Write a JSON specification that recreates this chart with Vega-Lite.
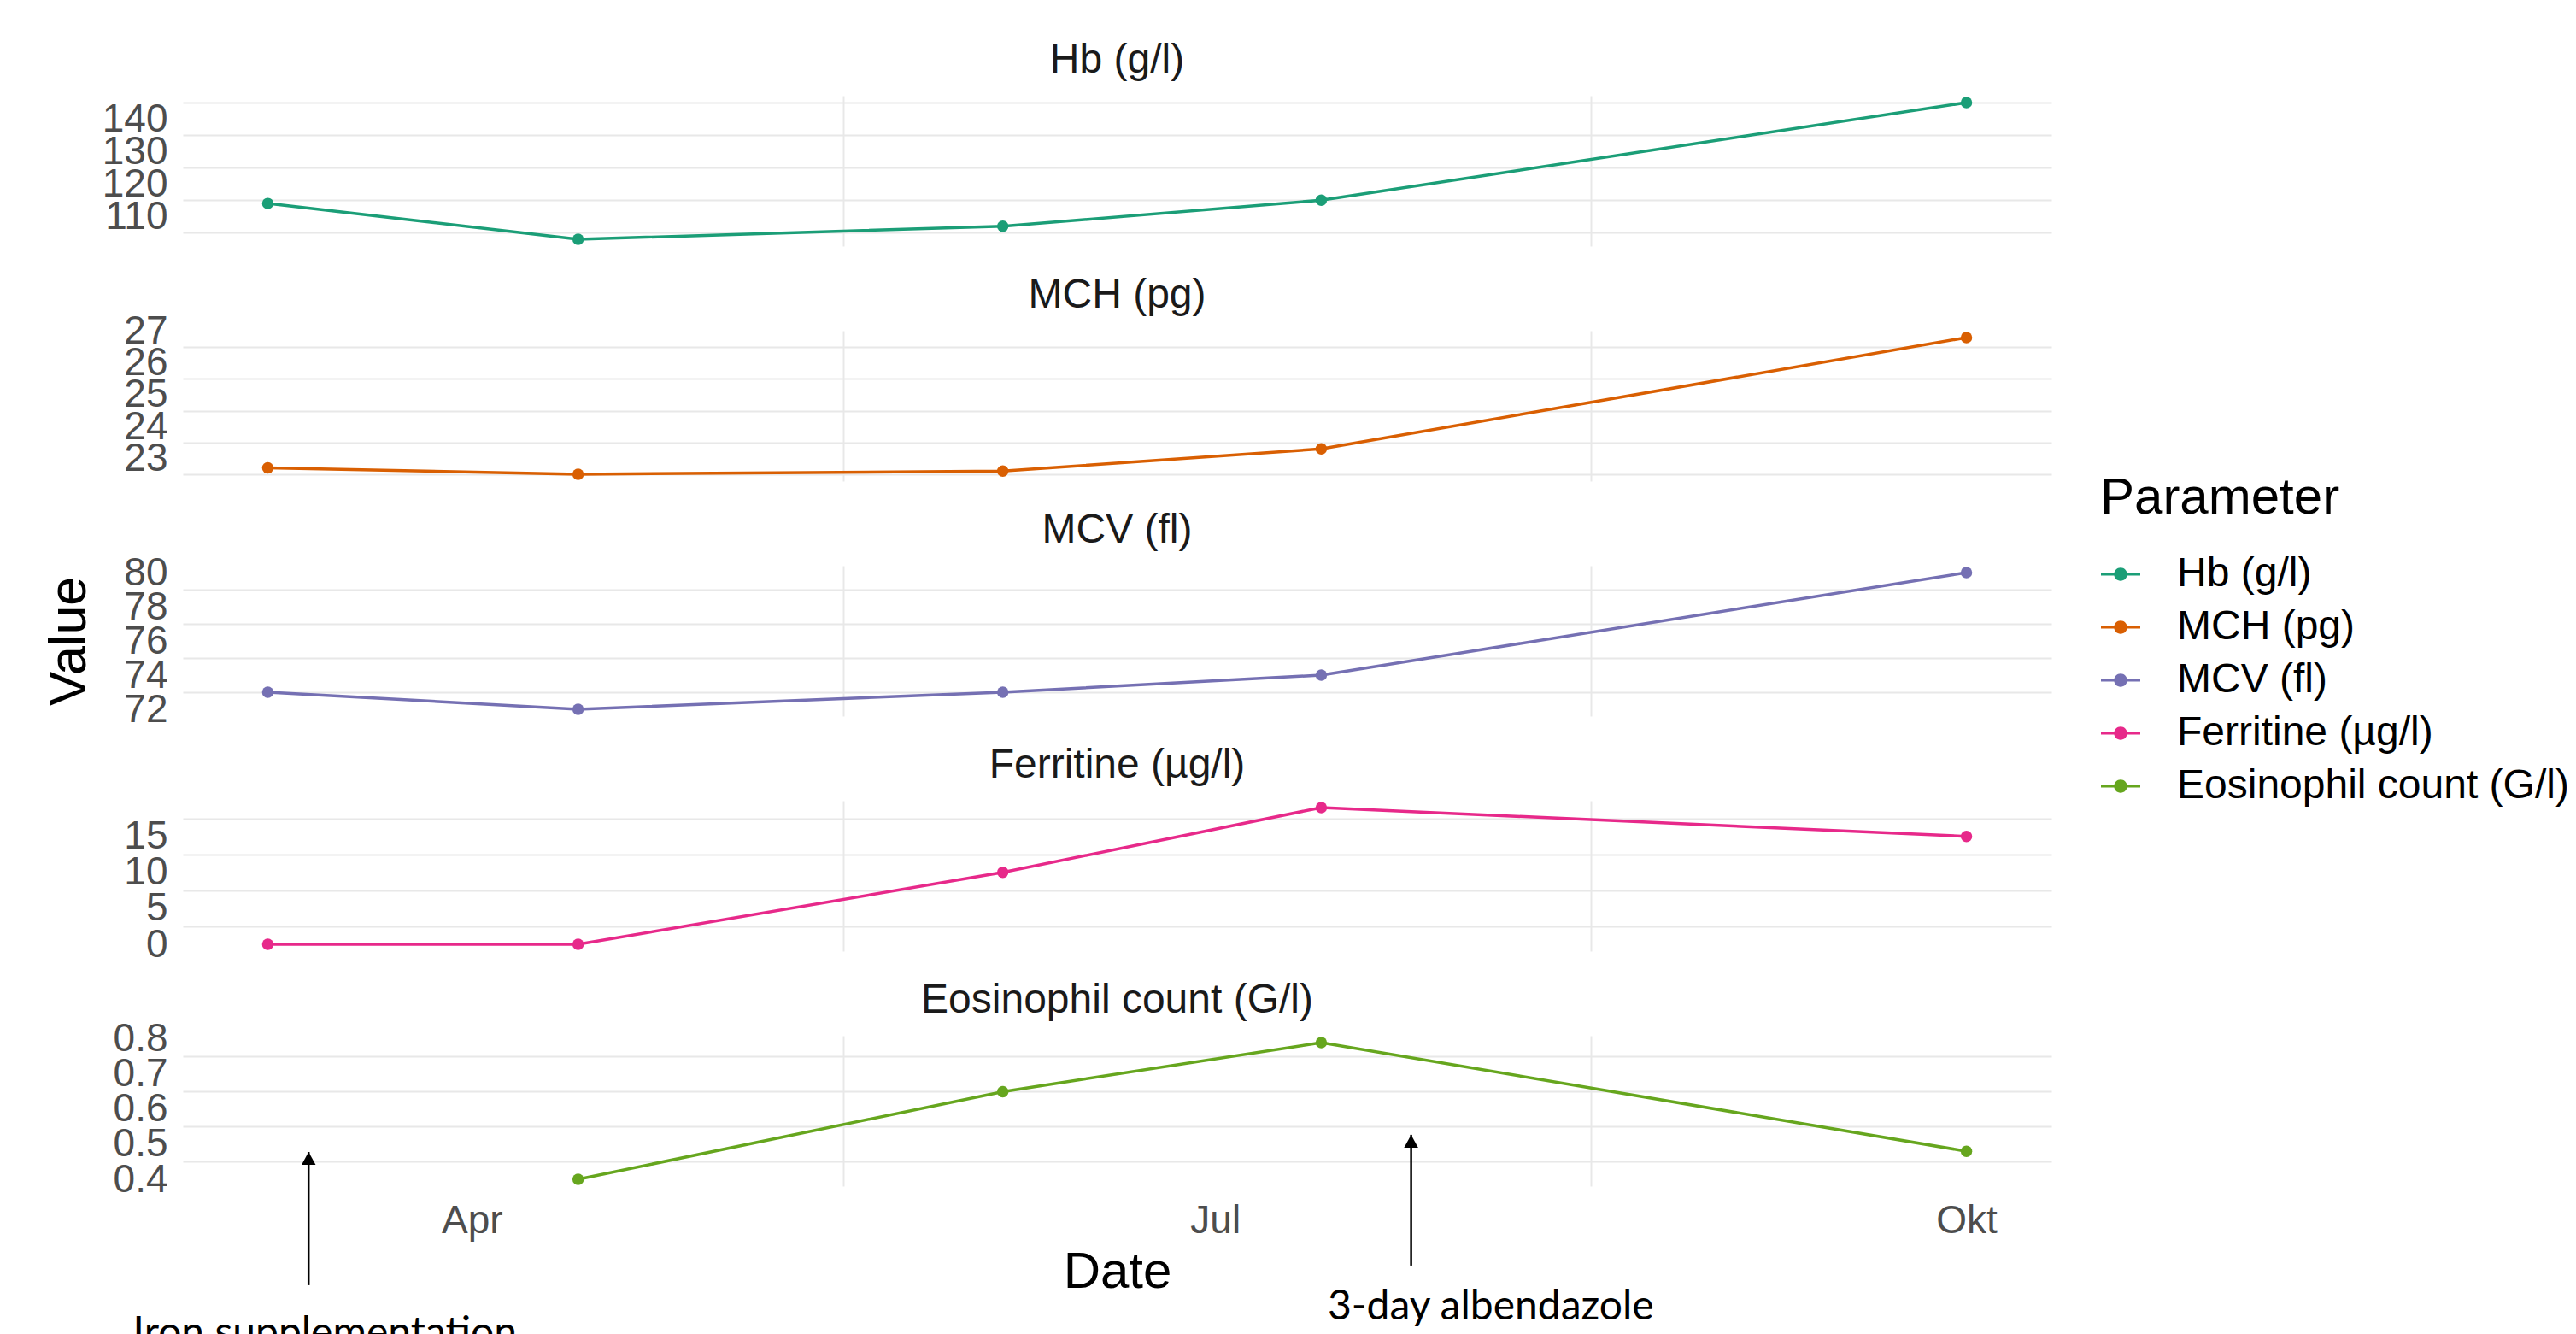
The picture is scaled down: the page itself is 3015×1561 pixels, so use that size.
{
  "$schema": "https://vega.github.io/schema/vega-lite/v6.json",
  "padding": {"left": 50, "top": 47, "right": 0, "bottom": 0},
  "background": "white",
  "datasets": {
    "labs": [
      {"Date": "2019-03-07T00:00:00", "Parameter": "Hb (g/l)", "Value": 114},
      {"Date": "2019-04-14T00:00:00", "Parameter": "Hb (g/l)", "Value": 103},
      {"Date": "2019-06-05T00:00:00", "Parameter": "Hb (g/l)", "Value": 107},
      {"Date": "2019-07-14T00:00:00", "Parameter": "Hb (g/l)", "Value": 115},
      {"Date": "2019-10-01T00:00:00", "Parameter": "Hb (g/l)", "Value": 145},
      {"Date": "2019-03-07T00:00:00", "Parameter": "MCH (pg)", "Value": 22.7},
      {"Date": "2019-04-14T00:00:00", "Parameter": "MCH (pg)", "Value": 22.5},
      {"Date": "2019-06-05T00:00:00", "Parameter": "MCH (pg)", "Value": 22.6},
      {"Date": "2019-07-14T00:00:00", "Parameter": "MCH (pg)", "Value": 23.3},
      {"Date": "2019-10-01T00:00:00", "Parameter": "MCH (pg)", "Value": 26.8},
      {"Date": "2019-03-07T00:00:00", "Parameter": "MCV (fl)", "Value": 73},
      {"Date": "2019-04-14T00:00:00", "Parameter": "MCV (fl)", "Value": 72},
      {"Date": "2019-06-05T00:00:00", "Parameter": "MCV (fl)", "Value": 73},
      {"Date": "2019-07-14T00:00:00", "Parameter": "MCV (fl)", "Value": 74},
      {"Date": "2019-10-01T00:00:00", "Parameter": "MCV (fl)", "Value": 80},
      {"Date": "2019-03-07T00:00:00", "Parameter": "Ferritine (µg/l)", "Value": 0},
      {"Date": "2019-04-14T00:00:00", "Parameter": "Ferritine (µg/l)", "Value": 0},
      {"Date": "2019-06-05T00:00:00", "Parameter": "Ferritine (µg/l)", "Value": 10},
      {"Date": "2019-07-14T00:00:00", "Parameter": "Ferritine (µg/l)", "Value": 19},
      {"Date": "2019-10-01T00:00:00", "Parameter": "Ferritine (µg/l)", "Value": 15},
      {"Date": "2019-04-14T00:00:00", "Parameter": "Eosinophil count (G/l)", "Value": 0.40},
      {"Date": "2019-06-05T00:00:00", "Parameter": "Eosinophil count (G/l)", "Value": 0.65},
      {"Date": "2019-07-14T00:00:00", "Parameter": "Eosinophil count (G/l)", "Value": 0.79},
      {"Date": "2019-10-01T00:00:00", "Parameter": "Eosinophil count (G/l)", "Value": 0.48}
    ],
    "arrows": [
      {"Date": "2019-03-12T00:00:00", "Tip": 0.478, "Base": 0.098},
      {"Date": "2019-07-25T00:00:00", "Tip": 0.527, "Base": 0.154}
    ],
    "notes": [
      {"Date": "2019-03-14T00:00:00", "Value": -0.075, "Note": "Iron supplementation"},
      {"Date": "2019-08-03T18:00:00", "Value": 0.0, "Note": "3-day albendazole"}
    ]
  },
  "data": {"name": "labs"},
  "spacing": 99,
  "bounds": "flush",
  "resolve": {"scale": {"y": "independent"}},
  "vconcat": [
    {
      "title": "Hb (g/l)",
      "width": 2187, "height": 176,
      "transform": [{"filter": "datum.Parameter === 'Hb (g/l)'"}],
      "resolve": {"axis": {"x": "independent", "y": "independent"}},
      "layer": [
        {"mark": {"type": "line", "strokeWidth": 3.5},
         "encoding": {
           "x": {"field": "Date", "type": "temporal", "scale": {"domain": [{"year": 2019, "month": 2, "date": 24, "hours": 14, "minutes": 24}, {"year": 2019, "month": 10, "date": 11, "hours": 9, "minutes": 36}], "nice": false},
                 "axis": {"values": [{"year": 2019, "month": 5, "date": 16, "hours": 12}, {"year": 2019, "month": 8, "date": 16}], "labels": false, "title": null, "gridWidth": 2, "orient": "top", "ticks": true, "tickSize": 30, "tickColor": "transparent"}},
           "y": {"field": "Value", "type": "quantitative", "scale": {"domain": [100.9, 147.1], "zero": false, "nice": false},
                 "axis": {"values": [105, 115, 125, 135, 145], "labels": false, "title": null, "gridWidth": 2, "orient": "right"}},
           "color": {"field": "Parameter", "type": "nominal", "scale": {"domain": ["Hb (g/l)", "MCH (pg)", "MCV (fl)", "Ferritine (µg/l)", "Eosinophil count (G/l)"], "range": ["#1B9E77", "#D95F02", "#7570B3", "#E7298A", "#66A61E"]}, "title": "Parameter",
                     "legend": {"encode": {"symbols": {"update": {"fill": {"scale": "color", "field": "value"}, "stroke": {"value": "transparent"}, "opacity": {"value": 1}, "strokeWidth": {"value": 0}}}}}}
         }},
        {"mark": {"type": "point", "filled": true, "size": 180, "opacity": 1},
         "encoding": {
           "x": {"field": "Date", "type": "temporal",
                 "axis": {"values": [{"year": 2019, "month": 4, "date": 1}, {"year": 2019, "month": 7, "date": 1}, {"year": 2019, "month": 10, "date": 1}], "labels": false, "title": null, "gridWidth": 3.5}},
           "y": {"field": "Value", "type": "quantitative",
                 "axis": {"values": [110, 120, 130, 140], "format": ".0f", "title": null, "gridWidth": 3.5}},
           "color": {"field": "Parameter", "type": "nominal", "scale": {"domain": ["Hb (g/l)", "MCH (pg)", "MCV (fl)", "Ferritine (µg/l)", "Eosinophil count (G/l)"], "range": ["#1B9E77", "#D95F02", "#7570B3", "#E7298A", "#66A61E"]}, "title": "Parameter",
                     "legend": {"encode": {"symbols": {"update": {"fill": {"scale": "color", "field": "value"}, "stroke": {"value": "transparent"}, "opacity": {"value": 1}, "strokeWidth": {"value": 0}}}}}}
         }}
      ]
    },
    {
      "title": "MCH (pg)",
      "width": 2187, "height": 176,
      "transform": [{"filter": "datum.Parameter === 'MCH (pg)'"}],
      "resolve": {"axis": {"x": "independent", "y": "independent"}},
      "layer": [
        {"mark": {"type": "line", "strokeWidth": 3.5},
         "encoding": {
           "x": {"field": "Date", "type": "temporal", "scale": {"domain": [{"year": 2019, "month": 2, "date": 24, "hours": 14, "minutes": 24}, {"year": 2019, "month": 10, "date": 11, "hours": 9, "minutes": 36}], "nice": false},
                 "axis": {"values": [{"year": 2019, "month": 5, "date": 16, "hours": 12}, {"year": 2019, "month": 8, "date": 16}], "labels": false, "title": null, "gridWidth": 2, "orient": "top", "ticks": true, "tickSize": 30, "tickColor": "transparent"}},
           "y": {"field": "Value", "type": "quantitative", "scale": {"domain": [22.285, 27.015], "zero": false, "nice": false},
                 "axis": {"values": [22.5, 23.5, 24.5, 25.5, 26.5], "labels": false, "title": null, "gridWidth": 2, "orient": "right"}},
           "color": {"field": "Parameter", "type": "nominal", "scale": {"domain": ["Hb (g/l)", "MCH (pg)", "MCV (fl)", "Ferritine (µg/l)", "Eosinophil count (G/l)"], "range": ["#1B9E77", "#D95F02", "#7570B3", "#E7298A", "#66A61E"]}, "title": "Parameter",
                     "legend": {"encode": {"symbols": {"update": {"fill": {"scale": "color", "field": "value"}, "stroke": {"value": "transparent"}, "opacity": {"value": 1}, "strokeWidth": {"value": 0}}}}}}
         }},
        {"mark": {"type": "point", "filled": true, "size": 180, "opacity": 1},
         "encoding": {
           "x": {"field": "Date", "type": "temporal",
                 "axis": {"values": [{"year": 2019, "month": 4, "date": 1}, {"year": 2019, "month": 7, "date": 1}, {"year": 2019, "month": 10, "date": 1}], "labels": false, "title": null, "gridWidth": 3.5}},
           "y": {"field": "Value", "type": "quantitative",
                 "axis": {"values": [23, 24, 25, 26, 27], "format": ".0f", "title": null, "gridWidth": 3.5}},
           "color": {"field": "Parameter", "type": "nominal", "scale": {"domain": ["Hb (g/l)", "MCH (pg)", "MCV (fl)", "Ferritine (µg/l)", "Eosinophil count (G/l)"], "range": ["#1B9E77", "#D95F02", "#7570B3", "#E7298A", "#66A61E"]}, "title": "Parameter",
                     "legend": {"encode": {"symbols": {"update": {"fill": {"scale": "color", "field": "value"}, "stroke": {"value": "transparent"}, "opacity": {"value": 1}, "strokeWidth": {"value": 0}}}}}}
         }}
      ]
    },
    {
      "title": "MCV (fl)",
      "width": 2187, "height": 176,
      "transform": [{"filter": "datum.Parameter === 'MCV (fl)'"}],
      "resolve": {"axis": {"x": "independent", "y": "independent"}},
      "layer": [
        {"mark": {"type": "line", "strokeWidth": 3.5},
         "encoding": {
           "x": {"field": "Date", "type": "temporal", "scale": {"domain": [{"year": 2019, "month": 2, "date": 24, "hours": 14, "minutes": 24}, {"year": 2019, "month": 10, "date": 11, "hours": 9, "minutes": 36}], "nice": false},
                 "axis": {"values": [{"year": 2019, "month": 5, "date": 16, "hours": 12}, {"year": 2019, "month": 8, "date": 16}], "labels": false, "title": null, "gridWidth": 2, "orient": "top", "ticks": true, "tickSize": 30, "tickColor": "transparent"}},
           "y": {"field": "Value", "type": "quantitative", "scale": {"domain": [71.6, 80.4], "zero": false, "nice": false},
                 "axis": {"values": [73, 75, 77, 79], "labels": false, "title": null, "gridWidth": 2, "orient": "right"}},
           "color": {"field": "Parameter", "type": "nominal", "scale": {"domain": ["Hb (g/l)", "MCH (pg)", "MCV (fl)", "Ferritine (µg/l)", "Eosinophil count (G/l)"], "range": ["#1B9E77", "#D95F02", "#7570B3", "#E7298A", "#66A61E"]}, "title": "Parameter",
                     "legend": {"encode": {"symbols": {"update": {"fill": {"scale": "color", "field": "value"}, "stroke": {"value": "transparent"}, "opacity": {"value": 1}, "strokeWidth": {"value": 0}}}}}}
         }},
        {"mark": {"type": "point", "filled": true, "size": 180, "opacity": 1},
         "encoding": {
           "x": {"field": "Date", "type": "temporal",
                 "axis": {"values": [{"year": 2019, "month": 4, "date": 1}, {"year": 2019, "month": 7, "date": 1}, {"year": 2019, "month": 10, "date": 1}], "labels": false, "title": null, "gridWidth": 3.5}},
           "y": {"field": "Value", "type": "quantitative",
                 "axis": {"values": [72, 74, 76, 78, 80], "format": ".0f", "title": "Value", "titlePadding": 32, "titleFontSize": 61, "gridWidth": 3.5}},
           "color": {"field": "Parameter", "type": "nominal", "scale": {"domain": ["Hb (g/l)", "MCH (pg)", "MCV (fl)", "Ferritine (µg/l)", "Eosinophil count (G/l)"], "range": ["#1B9E77", "#D95F02", "#7570B3", "#E7298A", "#66A61E"]}, "title": "Parameter",
                     "legend": {"encode": {"symbols": {"update": {"fill": {"scale": "color", "field": "value"}, "stroke": {"value": "transparent"}, "opacity": {"value": 1}, "strokeWidth": {"value": 0}}}}}}
         }}
      ]
    },
    {
      "title": "Ferritine (µg/l)",
      "width": 2187, "height": 176,
      "transform": [{"filter": "datum.Parameter === 'Ferritine (µg/l)'"}],
      "resolve": {"axis": {"x": "independent", "y": "independent"}},
      "layer": [
        {"mark": {"type": "line", "strokeWidth": 3.5},
         "encoding": {
           "x": {"field": "Date", "type": "temporal", "scale": {"domain": [{"year": 2019, "month": 2, "date": 24, "hours": 14, "minutes": 24}, {"year": 2019, "month": 10, "date": 11, "hours": 9, "minutes": 36}], "nice": false},
                 "axis": {"values": [{"year": 2019, "month": 5, "date": 16, "hours": 12}, {"year": 2019, "month": 8, "date": 16}], "labels": false, "title": null, "gridWidth": 2, "orient": "top", "ticks": true, "tickSize": 30, "tickColor": "transparent"}},
           "y": {"field": "Value", "type": "quantitative", "scale": {"domain": [-0.95, 19.95], "zero": false, "nice": false},
                 "axis": {"values": [2.5, 7.5, 12.5, 17.5], "labels": false, "title": null, "gridWidth": 2, "orient": "right"}},
           "color": {"field": "Parameter", "type": "nominal", "scale": {"domain": ["Hb (g/l)", "MCH (pg)", "MCV (fl)", "Ferritine (µg/l)", "Eosinophil count (G/l)"], "range": ["#1B9E77", "#D95F02", "#7570B3", "#E7298A", "#66A61E"]}, "title": "Parameter",
                     "legend": {"encode": {"symbols": {"update": {"fill": {"scale": "color", "field": "value"}, "stroke": {"value": "transparent"}, "opacity": {"value": 1}, "strokeWidth": {"value": 0}}}}}}
         }},
        {"mark": {"type": "point", "filled": true, "size": 180, "opacity": 1},
         "encoding": {
           "x": {"field": "Date", "type": "temporal",
                 "axis": {"values": [{"year": 2019, "month": 4, "date": 1}, {"year": 2019, "month": 7, "date": 1}, {"year": 2019, "month": 10, "date": 1}], "labels": false, "title": null, "gridWidth": 3.5}},
           "y": {"field": "Value", "type": "quantitative",
                 "axis": {"values": [0, 5, 10, 15], "format": ".0f", "title": null, "gridWidth": 3.5}},
           "color": {"field": "Parameter", "type": "nominal", "scale": {"domain": ["Hb (g/l)", "MCH (pg)", "MCV (fl)", "Ferritine (µg/l)", "Eosinophil count (G/l)"], "range": ["#1B9E77", "#D95F02", "#7570B3", "#E7298A", "#66A61E"]}, "title": "Parameter",
                     "legend": {"encode": {"symbols": {"update": {"fill": {"scale": "color", "field": "value"}, "stroke": {"value": "transparent"}, "opacity": {"value": 1}, "strokeWidth": {"value": 0}}}}}}
         }}
      ]
    },
    {
      "title": "Eosinophil count (G/l)",
      "width": 2187, "height": 176,
      "resolve": {"axis": {"x": "independent", "y": "independent"}},
      "layer": [
        {"transform": [{"filter": "datum.Parameter === 'Eosinophil count (G/l)'"}],
         "mark": {"type": "line", "strokeWidth": 3.5},
         "encoding": {
           "x": {"field": "Date", "type": "temporal", "scale": {"domain": [{"year": 2019, "month": 2, "date": 24, "hours": 14, "minutes": 24}, {"year": 2019, "month": 10, "date": 11, "hours": 9, "minutes": 36}], "nice": false},
                 "axis": {"values": [{"year": 2019, "month": 5, "date": 16, "hours": 12}, {"year": 2019, "month": 8, "date": 16}], "labels": false, "title": null, "gridWidth": 2, "orient": "top", "ticks": true, "tickSize": 30, "tickColor": "transparent"}},
           "y": {"field": "Value", "type": "quantitative", "scale": {"domain": [0.3805, 0.8095], "zero": false, "nice": false},
                 "axis": {"values": [0.45, 0.55, 0.65, 0.75], "labels": false, "title": null, "gridWidth": 2, "orient": "right"}},
           "color": {"field": "Parameter", "type": "nominal", "scale": {"domain": ["Hb (g/l)", "MCH (pg)", "MCV (fl)", "Ferritine (µg/l)", "Eosinophil count (G/l)"], "range": ["#1B9E77", "#D95F02", "#7570B3", "#E7298A", "#66A61E"]}, "title": "Parameter",
                     "legend": {"encode": {"symbols": {"update": {"fill": {"scale": "color", "field": "value"}, "stroke": {"value": "transparent"}, "opacity": {"value": 1}, "strokeWidth": {"value": 0}}}}}}
         }},
        {"transform": [{"filter": "datum.Parameter === 'Eosinophil count (G/l)'"}],
         "mark": {"type": "point", "filled": true, "size": 180, "opacity": 1},
         "encoding": {
           "x": {"field": "Date", "type": "temporal",
                 "axis": {"values": [{"year": 2019, "month": 4, "date": 1}, {"year": 2019, "month": 7, "date": 1}, {"year": 2019, "month": 10, "date": 1}], "title": "Date", "labelPadding": 18, "titlePadding": 8, "gridWidth": 3.5,
                          "labelExpr": "['Jan','Feb','Mär','Apr','Mai','Jun','Jul','Aug','Sep','Okt','Nov','Dez'][month(datum.value)]"}},
           "y": {"field": "Value", "type": "quantitative",
                 "axis": {"values": [0.4, 0.5, 0.6, 0.7, 0.8], "format": ".1f", "title": null, "gridWidth": 3.5}},
           "color": {"field": "Parameter", "type": "nominal", "scale": {"domain": ["Hb (g/l)", "MCH (pg)", "MCV (fl)", "Ferritine (µg/l)", "Eosinophil count (G/l)"], "range": ["#1B9E77", "#D95F02", "#7570B3", "#E7298A", "#66A61E"]}, "title": "Parameter",
                     "legend": {"encode": {"symbols": {"update": {"fill": {"scale": "color", "field": "value"}, "stroke": {"value": "transparent"}, "opacity": {"value": 1}, "strokeWidth": {"value": 0}}}}}}
         }},
        {"data": {"name": "arrows"},
         "mark": {"type": "rule", "strokeWidth": 2.5, "color": "#000000"},
         "encoding": {
           "x": {"field": "Date", "type": "temporal", "axis": null},
           "y": {"field": "Tip", "type": "quantitative", "axis": null},
           "y2": {"field": "Base"}
         }},
        {"data": {"name": "arrows"},
         "mark": {"type": "point", "filled": true, "opacity": 1, "color": "#000000", "shape": "M0,-1L1.1,1L-1.1,1Z", "size": 225, "yOffset": 7.5, "strokeWidth": 0},
         "encoding": {
           "x": {"field": "Date", "type": "temporal", "axis": null},
           "y": {"field": "Tip", "type": "quantitative", "axis": null}
         }},
        {"data": {"name": "notes"},
         "mark": {"type": "text", "font": "Lato", "fontSize": 48, "color": "#000000", "align": "center", "baseline": "alphabetic"},
         "encoding": {
           "x": {"field": "Date", "type": "temporal", "axis": null},
           "y": {"field": "Value", "type": "quantitative", "axis": null},
           "text": {"field": "Note", "type": "nominal"}
         }}
      ]
    }
  ],
  "config": {
    "view": {"stroke": null},
    "font": "Liberation Sans",
    "axis": {"domain": false, "ticks": false, "tickSize": 0, "labelFont": "Liberation Sans", "labelFontSize": 46, "labelColor": "#4D4D4D", "gridColor": "#E8E8E8", "labelOverlap": false, "labelBound": false, "labelFlush": false, "titleFont": "Liberation Sans", "titleFontSize": 60, "titleFontWeight": "normal", "titleColor": "#000000"},
    "axisY": {"labelPadding": 18},
    "axisX": {"labelPadding": 17},
    "title": {"font": "Liberation Sans", "fontSize": 48, "fontWeight": "normal", "color": "#1A1A1A", "anchor": "middle", "frame": "group", "baseline": "alphabetic", "offset": -13.5},
    "legend": {
      "orient": "none", "legendX": 2244, "legendY": 442,
      "titleFont": "Liberation Sans", "titleFontSize": 60, "titleFontWeight": "normal", "titleColor": "#000000", "titlePadding": 34, "titleLimit": 2000,
      "labelFont": "Liberation Sans", "labelFontSize": 48, "labelColor": "#000000", "labelOffset": 42, "labelLimit": 2000,
      "symbolType": "M-1,-0.07L1,-0.07L1,0.07L-1,0.07Z M0.335,0A0.335,0.335 0 1,1 -0.335,0A0.335,0.335 0 1,1 0.335,0Z",
      "symbolSize": 2116, "symbolStrokeWidth": 0, "rowPadding": 14
    }
  }
}
